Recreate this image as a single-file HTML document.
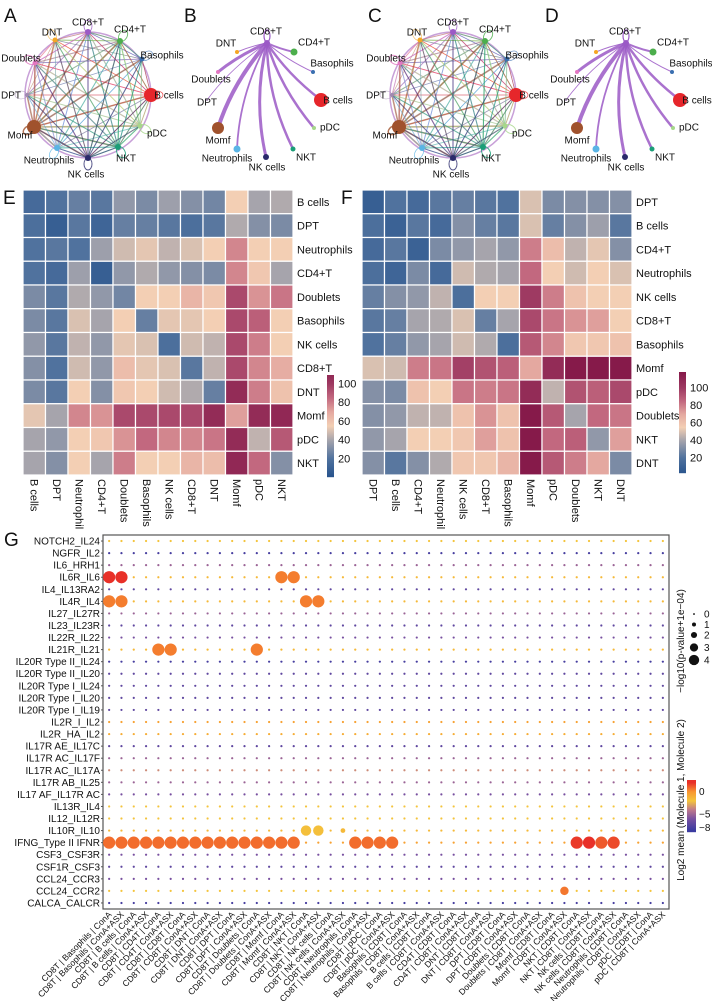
<!DOCTYPE html>
<html><head><meta charset="utf-8">
<style>
html,body{margin:0;padding:0;background:#fff;}
svg{display:block;font-family:"Liberation Sans",Arial,sans-serif;}
</style></head>
<body>
<svg id="fig" width="712" height="1001" viewBox="0 0 712 1001" xmlns="http://www.w3.org/2000/svg">
<g font-size="19" fill="#111">
<text x="4" y="22">A</text>
<text x="184" y="22">B</text>
<text x="368" y="22">C</text>
<text x="545" y="22">D</text>
<text x="3" y="204">E</text>
<text x="341" y="204">F</text>
<text x="4" y="546">G</text>
</g>
<g id="net"></g>
<g id="heat"></g>
<g id="dots"></g>
</svg>
<script>
const NS="http://www.w3.org/2000/svg";
function mk(tag,attrs,parent){const e=document.createElementNS(NS,tag);for(const k in attrs)e.setAttribute(k,attrs[k]);parent.appendChild(e);return e;}

/* ---------- network data ---------- */
const netNodes=["CD8+T","DNT","CD4+T","Doublets","Basophils","DPT","B cells","Momf","pDC","Neutrophils","NKT","NK cells"];
const netColors=["#9b59c6","#f5a623","#4cae4c","#e377c2","#3a6fb0","#a08ab0","#e6262b","#a0522d","#a6d78a","#5ab4e5","#1a9e77","#2b2a6b"];
const netSizes=[3,2.5,3,2.5,2.5,2,7,7,2.5,3,3,3];
const netX=[88,55,120,35,142,27,151,34,140,57,118,88];
const netY=[32,40,41,63,59,95,95,127,126,148,147,158];
const outWeights=[1.5,0.6,1.8,2,0.8,0.4,1,3.5,2,1.2,2,2];
const labDX=[0,-3,10,-14,20,-16,18,-14,17,-8,8,-2];
const labDY=[-10,-8,-12,-5,-4,0,0,8,7,12,11,16];
const net=document.getElementById('net');
function drawNet(ox,full,tag){
  const g=mk('g',{},net);
  
  
  if(full){
    mk('circle',{cx:ox+88,cy:95,r:63,fill:'none',stroke:'#c8a0d8','stroke-width':1.5},g);
    for(let i=0;i<netNodes.length;i++)for(let j=0;j<netNodes.length;j++){if(i===j)continue;
      const l=mk('line',{x1:ox+netX[i],y1:netY[i],x2:ox+netX[j],y2:netY[j],stroke:netColors[i],'stroke-width':0.4+outWeights[i]*0.35,'stroke-opacity':0.55},g);
      
      }
    for(let i=0;i<netNodes.length;i++){const cx=ox+netX[i],cy=netY[i];const dx=(cx-(ox+88)),dy=(cy-95);const d=Math.hypot(dx,dy)||1;
      mk('ellipse',{cx:cx+dx/d*6,cy:cy+dy/d*6,rx:6,ry:4,fill:'none',stroke:netColors[i],'stroke-width':0.4+outWeights[i]*0.3,'stroke-opacity':0.8,transform:`rotate(${Math.atan2(dy,dx)*180/Math.PI} ${cx+dx/d*6} ${cy+dy/d*6})`},g);}
  }
  for(let i=0;i<netNodes.length;i++){
    let x=ox+netX[i],y=netY[i];
    if(!full){x=ox+bX[i];y=bY[i];}
    if(!full && i>0){
      const sx=ox+bX[0],sy=bY[0];
      const p=mk('path',{d:`M${sx},${sy} Q${(sx+x)/2+(sy-y)*0.12},${(sy+y)/2+(x-sx)*0.05} ${x},${y}`,fill:'none',stroke:'#9b59c6','stroke-width':bW[i],'stroke-opacity':0.85},g);
      
      
    }
  }
  if(!full){mk('ellipse',{cx:ox+bX[0],cy:bY[0]-7,rx:3,ry:6,fill:'none',stroke:'#9b59c6','stroke-width':1.2},g);}
  for(let i=0;i<netNodes.length;i++){
    let x=ox+(full?netX[i]:bX[i]),y=full?netY[i]:bY[i];
    const c=mk('circle',{cx:x,cy:y,r:full?netSizes[i]:bSizes[i],fill:netColors[i]},g);
    
    
    const t=mk('text',{x:full?x+labDX[i]:ox+bLX[i],y:(full?y+labDY[i]:bLY[i])+3.5,'font-size':10,'text-anchor':'middle',fill:'#111'},g);
    t.textContent=netNodes[i];
    
    
  }
}
const bX=[267,237,294,218,313,207,321,218,314,237,293,266];
const bY=[43,52,52,72,72,100,100,128,128,149,149,157];
const bW=[0,1,2,3,1,0.8,2.5,4,2.5,1.8,2.5,3];
const bSizes=[3,2,3.5,2,2,1,7,6,2,3.5,2.5,3];
const bLX=[266,226,314,211,332,207,338,218,330,227,306,267];
const bLY=[31,43,42,79,63,102,100,140,127,158,157,167];
drawNet(0,true,'a');drawNet(365,true,'c');
drawNet(0,false,'b');drawNet(359,false,'d');

/* ---------- heatmap data ---------- */
const eRows=["B cells","DPT","Neutrophils","CD4+T","Doublets","Basophils","NK cells","CD8+T","DNT","Momf","pDC","NKT"];
const eCols=eRows;
const eVals=[
[15,20,25,22,35,30,38,32,28,55,40,42],
[18,8,22,12,25,25,22,18,22,42,32,30],
[20,22,20,38,48,52,45,50,55,78,55,55],
[20,15,38,8,35,42,35,32,30,78,58,40],
[30,22,42,35,28,55,55,65,58,95,75,82],
[30,22,50,40,55,25,52,52,55,95,88,55],
[35,22,45,35,52,50,18,48,45,95,80,55],
[32,20,48,35,62,52,50,22,45,95,78,68],
[30,22,55,32,58,55,48,42,25,108,80,60],
[52,40,78,75,95,95,95,95,108,72,108,110],
[40,35,55,58,75,85,78,78,82,108,45,90],
[40,32,55,40,80,55,55,65,62,110,85,32]];
const fRows=["DPT","B cells","CD4+T","Neutrophils","NK cells","CD8+T","Basophils","Momf","pDC","Doublets","NKT","DNT"];
const fCols=fRows;
const fVals=[
[8,20,15,22,25,22,20,50,30,32,32,32],
[18,10,22,15,32,25,22,50,25,32,38,22],
[15,22,10,30,35,40,35,80,62,45,52,32],
[18,12,30,15,48,42,40,85,55,48,55,50],
[25,32,35,45,18,55,55,100,80,60,55,55],
[22,25,40,42,50,25,40,95,82,75,72,55],
[20,25,35,40,48,42,18,90,78,58,58,60],
[50,48,80,82,98,92,88,70,108,118,118,118],
[32,30,60,55,82,80,82,108,45,92,88,95],
[32,35,45,45,60,75,60,118,90,40,85,82],
[35,40,55,55,58,72,60,118,85,88,35,72],
[32,22,32,42,58,58,65,118,90,80,70,30]];
const eTicks=[20,40,60,80,100];
const fTicks=[20,40,60,80,100];

const hStops=[[0,[38,82,140]],[20,[80,114,158]],[40,[166,164,172]],[55,[243,207,180]],[70,[228,168,160]],[85,[194,104,127]],[100,[158,58,98]],[118,[134,26,74]]];
function hcol(v){for(let i=1;i<hStops.length;i++){if(v<=hStops[i][0]||i===hStops.length-1){const a=hStops[i-1],b=hStops[i];let t=(v-a[0])/(b[0]-a[0]);t=Math.max(0,Math.min(1,t));const c=a[1].map((x,k)=>Math.round(x+(b[1][k]-x)*t));return `rgb(${c})`;}}}
const heat=document.getElementById('heat');
function drawHeat(x0,y0,cw,ch,rows,cols,vals,tag,cb){
  const g=mk('g',{},heat);
  
  
  rows.forEach((r,i)=>cols.forEach((c,j)=>{
    const rc=mk('rect',{x:x0+j*cw,y:y0+i*ch,width:cw,height:ch,fill:hcol(vals[i][j]),stroke:'#fff','stroke-width':1.2},g);
    
    
  }));
  rows.forEach((r,i)=>{const t=mk('text',{x:x0+cols.length*cw+4,y:y0+i*ch+ch/2+4,'font-size':11,fill:'#111'},g);t.textContent=r;
    
    });
  cols.forEach((c,j)=>{const cx=x0+j*cw+cw/2-4,cy=y0+rows.length*ch+4;const t=mk('text',{x:cx,y:cy,'font-size':11,fill:'#111',transform:`rotate(90 ${cx} ${cy})`},g);t.textContent=c.length>10?c.slice(0,10):c;
    
    });
  const cbG=mk('g',{},g);
  
  
  const py=v=>cb.y1-(v-cb.v0)/(cb.v1-cb.v0)*(cb.y1-cb.y0);
  for(let y=cb.y0;y<cb.y1;y++){mk('rect',{x:cb.x,y:y,width:7,height:1.2,fill:hcol(cb.v0+(cb.y1-y)/(cb.y1-cb.y0)*(cb.v1-cb.v0))},cbG);}
  cb.ticks.forEach(v=>{const t=mk('text',{x:cb.x+11,y:py(v)+4,'font-size':11,fill:'#111'},cbG);t.textContent=v;
    
    });
}
drawHeat(23,190,22.5,23.75,eRows,eCols,eVals,'e',{x:327,y0:375,y1:477,v0:0,v1:109,ticks:eTicks});
drawHeat(362,190,22.5,23.75,fRows,fCols,fVals,'f',{x:679,y0:372,y1:473,v0:2,v1:118,ticks:fTicks});

/* ---------- dot plot data ---------- */
const dotRows=["NOTCH2_IL24","NGFR_IL2","IL6_HRH1","IL6R_IL6","IL4_IL13RA2","IL4R_IL4","IL27_IL27R","IL23_IL23R","IL22R_IL22","IL21R_IL21","IL20R Type II_IL24","IL20R Type II_IL20","IL20R Type I_IL24","IL20R Type I_IL20","IL20R Type I_IL19","IL2R_I_IL2","IL2R_HA_IL2","IL17R AE_IL17C","IL17R AC_IL17F","IL17R AC_IL17A","IL17R AB_IL25","IL17 AF_IL17R AC","IL13R_IL4","IL12_IL12R","IL10R_IL10","IFNG_Type II IFNR","CSF3_CSF3R","CSF1R_CSF3","CCL24_CCR3","CCL24_CCR2","CALCA_CALCR"];
const cellTypes=["Basophils","B cells","CD4T","CD8T","DNT","DPT","Doublets","Momf","NKT","NK cells","Neutrophils","pDC"];
const conds=["ConA","ConA+ASX"];
const dotCols=[];
cellTypes.forEach(c=>conds.forEach(k=>dotCols.push("CD8T | "+c+" | "+k)));
cellTypes.filter(c=>c!=="CD8T").forEach(c=>conds.forEach(k=>dotCols.push(c+" | CD8T | "+k)));
const rowMean=[-2,-8,-5,-1.5,-7,-1.5,-5,-7,-6,-1.5,-8,-7,-7,-7,-7,-0.5,-1,-7,-5,-3.5,-5,-6,-2,-2,-1.5,-0.5,-6,-7,-6,-2,-8];
const sigRow=[3,3,3,3,5,5,5,5,9,9,9,24,24,24,29, 25,25,25,25,25,25,25,25,25,25,25,25,25,25,25,25, 25,25,25,25, 25,25,25,25];
const sigCol=[0,1,14,15,0,1,16,17,4,5,12,16,17,19,37, 0,1,2,3,4,5,6,7,8,9,10,11,12,13,14,15, 20,21,22,23, 38,39,40,41];
const sigMean=[2,2,0.5,0.5,0.5,0.5,0.5,0.5,0.5,0.5,0.5,-1.8,-1.8,-1.5,0.6, 0.8,0.8,0.8,0.8,0.8,0.8,0.8,0.8,0.8,0.8,0.8,0.8,0.8,0.8,0.8,0.8, 0.8,0.8,0.8,0.8, 1.8,2,1.2,1.5];
const sigP=[4,4,4,4,4,4,4,4,4,4,4,3.3,3.3,1,2.5, 4,4,4,4,4,4,4,4,4,4,4,4,4,4,4,4, 4,4,4,4, 4,4,4,4];
const sizeTicks=[0,1,2,3,4];
const colorTicks=[0,-5,-8];

const dStops=[[-8.5,[59,59,160]],[-6,[120,80,160]],[-4,[190,120,140]],[-2,[244,196,60]],[0,[248,150,48]],[2,[232,48,40]]];
function dcol(v){for(let i=1;i<dStops.length;i++){if(v<=dStops[i][0]||i===dStops.length-1){const a=dStops[i-1],b=dStops[i];let t=(v-a[0])/(b[0]-a[0]);t=Math.max(0,Math.min(1,t));const c=a[1].map((x,k)=>Math.round(x+(b[1][k]-x)*t));return `rgb(${c})`;}}}
const rad=p=>1.1+p*1.25;
const PX0=103,PX1=669,PY0=535,PY1=909;
const cw=(PX1-PX0)/dotCols.length, rh=(PY1-PY0)/dotRows.length;
const xS=j=>PX0+(j+0.5)*cw, yS=i=>PY0+(i+0.5)*rh;
const dots=document.getElementById('dots');
const frame=mk('rect',{x:PX0,y:PY0,width:PX1-PX0,height:PY1-PY0,fill:'none',stroke:'#555','stroke-width':1.2},dots);


const sigMap={};sigRow.forEach((r,k)=>sigMap[r+'_'+sigCol[k]]=k);
dotRows.forEach((r,i)=>{
  const t=mk('text',{x:PX0-3,y:yS(i)+3.5,'font-size':10,'text-anchor':'end',fill:'#111'},dots);t.textContent=r;
  
  
  mk('line',{x1:PX0-2,x2:PX0,y1:yS(i),y2:yS(i),stroke:'#555'},dots);
  dotCols.forEach((c,j)=>{
    const k=sigMap[i+'_'+j];
    if(k!==undefined)return;
    const d=mk('circle',{cx:xS(j),cy:yS(i),r:1.1,fill:dcol(rowMean[i])},dots);
    
    
  });
});
sigRow.forEach((r,k)=>{
  const d=mk('circle',{cx:xS(sigCol[k]),cy:yS(r),r:rad(sigP[k]),fill:dcol(sigMean[k])},dots);
  
  
});
dotCols.forEach((c,j)=>{
  const x=xS(j)+3,y=PY1+6;
  const t=mk('text',{x:x,y:y,'font-size':8.6,'text-anchor':'end',fill:'#111',transform:`rotate(-45 ${x} ${y})`},dots);t.textContent=c;
  
  
});
const sl=mk('g',{},dots);


const st=mk('text',{x:684,y:641,'font-size':10,'text-anchor':'middle',fill:'#111',transform:'rotate(-90 684 641)'},sl);st.textContent="−log10(p-value+1e−04)";
sizeTicks.forEach((v,k)=>{const y=614+k*10.5+(k>2?(k-2)*2:0);mk('circle',{cx:694,cy:y,r:rad(v)*0.85,fill:'#111'},sl);
  const t=mk('text',{x:704,y:y+3.5,'font-size':10,fill:'#111'},sl);t.textContent=v;
  
  });
const cl=mk('g',{},dots);


const ct=mk('text',{x:684,y:800,'font-size':10,'text-anchor':'middle',fill:'#111',transform:'rotate(-90 684 800)'},cl);ct.textContent="Log2 mean (Molecule 1, Molecule 2)";
const cY0=780,cY1=832,cV0=-9,cV1=2.5;
const cy=v=>cY1-(v-cV0)/(cV1-cV0)*(cY1-cY0);
for(let y=cY0;y<cY1;y++)mk('rect',{x:687,y:y,width:9,height:1.2,fill:dcol(cV0+(cY1-y)/(cY1-cY0)*(cV1-cV0))},cl);
colorTicks.forEach(v=>{const t=mk('text',{x:699,y:cy(v)+3.5,'font-size':10,fill:'#111'},cl);t.textContent=v===0?'0':'−'+Math.abs(v);
  
  });
</script>
</body></html>
